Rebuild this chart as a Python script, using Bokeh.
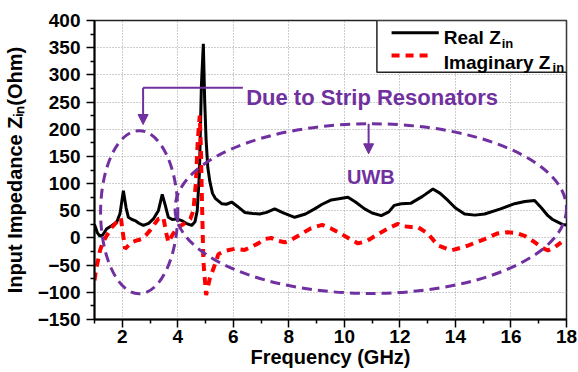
from bokeh.plotting import figure
from bokeh.models import Range1d, Label, Arrow, NormalHead, FixedTicker
from bokeh.embed import file_html
from bokeh.resources import INLINE

# ---------------- data ----------------
freq_real = [1.0, 1.1, 1.2, 1.3, 1.44, 1.6, 1.8, 1.92, 2.04, 2.14, 2.22, 2.35, 2.46, 2.6,
             2.76, 2.95, 3.12, 3.3, 3.44, 3.55, 3.66, 3.8, 3.96, 4.14, 4.3, 4.5, 4.62, 4.7,
             4.78, 4.85, 4.92, 4.97, 5.02, 5.08, 5.15, 5.25, 5.35, 5.58, 5.75, 5.94, 6.15,
             6.41, 6.7, 6.95, 7.2, 7.49, 7.8, 8.21, 8.6, 8.93, 9.2, 9.53, 9.8, 10.13, 10.4,
             10.73, 11.0, 11.33, 11.6, 11.8, 12.05, 12.4, 12.8, 13.19, 13.45, 13.73, 14.0,
             14.33, 14.7, 15.05, 15.6, 16.13, 16.5, 16.85, 17.1, 17.33, 17.5, 17.69, 17.85, 18.0]
z_real = [25, 10, 3, 6, 17, 22, 29, 45, 87, 55, 38, 34, 32, 27,
          23, 27, 35, 50, 80, 60, 38, 34, 35, 32, 27, 23, 30, 50,
          120, 280, 357, 250, 180, 130, 105, 82, 73, 63, 62, 66, 58,
          47, 45, 44, 47, 53.5, 46, 38, 44, 53.5, 62, 70, 72, 75, 66,
          53.5, 46, 41, 48, 60, 63, 64, 76, 90, 82, 69, 55,
          44, 42, 44, 53, 63, 67, 69, 55, 41, 34, 29, 25, 24]

freq_imag = [1.0, 1.05, 1.2, 1.3, 1.44, 1.6, 1.74, 1.95, 2.02, 2.1, 2.2, 2.34, 2.5, 2.7,
             2.85, 3.0, 3.15, 3.3, 3.48, 3.58, 3.66, 3.8, 3.96, 4.15, 4.32, 4.45, 4.56,
             4.65, 4.72, 4.79, 4.83, 4.86, 4.92, 5.02, 5.15, 5.33, 5.46, 5.69, 6.05, 6.41,
             6.7, 6.9, 7.13, 7.37, 7.6, 7.85, 8.1, 8.45, 8.8, 9.2, 9.5, 9.89, 10.2, 10.49,
             10.8, 11.21, 11.6, 11.93, 12.05, 12.4, 12.65, 13.01, 13.37, 13.85, 14.2, 14.45,
             15.05, 15.5, 15.89, 16.2, 16.49, 16.8, 17.09, 17.33, 17.6, 17.81]
z_imag = [-78, -60, -23, -8, 4, 18, 26, 37, 10, -20, -15, -8, -5, -2,
          5, 14, 25, 35, 38, 10, -8, 5, 17, 24, 29, 35, 50,
          100, 180, 225, 170, 93, -42, -105, -75, -50, -30, -24, -20, -22,
          -15, -10, -2, 0, -5, -8, -3, 7.5, 18, 24, 18, 7.5, -2, -10,
          -6, 7, 18, 26, 22, 20, 20, 8, -14, -23, -18, -14,
          -2, 8, 10.5, 9, 4, -6, -17, -23, -16, -8]

x_ticks = [2, 4, 6, 8, 10, 12, 14, 16, 18]
x_minor = [1, 3, 5, 7, 9, 11, 13, 15, 17]
y_ticks = [-150, -100, -50, 0, 50, 100, 150, 200, 250, 300, 350, 400]
y_minor = [-125, -75, -25, 25, 75, 125, 175, 225, 275, 325, 375]

x_title = "Frequency (GHz)"
y_title = "Input Impedance Z\u1d62\u2099(Ohm)"

# annotation ellipses (centre x, centre y, width, height in data units)
ell_x = [2.61, 10.95]
ell_y = [47.4, 54.0]
ell_w = [2.78, 14.1]
ell_h = [300.0, 312.0]

# ---------------- layout ----------------
W, H = 578, 372
FL, FR, FT, FB = 93, 566, 20, 319
X0, X1, Y0, Y1 = 1.0, 18.0, -150.0, 400.0


def X(px):
    return X0 + (px - FL) * (X1 - X0) / (FR - FL)


def Y(py):
    return Y0 + (FB - py) * (Y1 - Y0) / (FB - FT)


FONT = "Liberation Sans"
PURPLE = "#7030A0"

p = figure(width=W, height=H, x_range=Range1d(X0, X1), y_range=Range1d(Y0, Y1),
           output_backend="svg", toolbar_location=None,
           min_border_left=FL, min_border_right=W - FR,
           min_border_top=FT, min_border_bottom=H - FB)
p.background_fill_color = "white"
p.border_fill_color = "white"
p.outline_line_color = "#222222"
p.outline_line_width = 1.5

p.xaxis.ticker = FixedTicker(ticks=x_ticks, minor_ticks=x_minor)
p.yaxis.ticker = FixedTicker(ticks=y_ticks, minor_ticks=y_minor)
for ax in (p.xaxis, p.yaxis):
    ax.major_label_text_font = FONT
    ax.major_label_text_font_style = "bold"
    ax.major_label_text_font_size = "19px"
    ax.major_label_text_color = "black"
    ax.axis_label_text_font = FONT
    ax.axis_label_text_font_style = "bold"
    ax.axis_label_text_font_size = "20px"
    ax.axis_label_text_color = "black"
    ax.axis_line_width = 2
    ax.axis_line_color = "black"
    ax.major_tick_in = 0
    ax.major_tick_out = 8
    ax.minor_tick_in = 0
    ax.minor_tick_out = 4
    ax.major_tick_line_width = 1.5
    ax.minor_tick_line_width = 1.5
    ax.major_tick_line_color = "black"
    ax.minor_tick_line_color = "black"
p.xaxis.axis_label = x_title
p.yaxis.axis_label = y_title
p.xaxis.major_label_standoff = 2
p.xaxis.axis_label_standoff = 0
p.yaxis.major_label_standoff = 6
p.yaxis.axis_label_standoff = 9

p.xgrid.ticker = FixedTicker(ticks=x_ticks)
p.ygrid.ticker = FixedTicker(ticks=y_ticks)
for g in (p.xgrid, p.ygrid):
    g.grid_line_color = "#9a9a9a"
    g.grid_line_dash = "1 2"
    g.grid_line_width = 1

# ---------------- data curves ----------------
p.line(freq_real, z_real, line_color="black", line_width=3)
p.line(freq_imag, z_imag, line_color="#ff0000", line_width=4, line_dash="8 6")

# purple dashed ellipses
p.ellipse(x=ell_x, y=ell_y, width=ell_w, height=ell_h, fill_color=None,
          line_color=PURPLE, line_width=3, line_dash="10 6")

# arrows
p.segment(x0=[X(141.7)], y0=[Y(87.3)], x1=[X(241.7)], y1=[Y(87.3)],
          line_color=PURPLE, line_width=2)
p.add_layout(Arrow(end=NormalHead(size=10, fill_color=PURPLE, line_color=PURPLE),
                   x_start=X(141.7), y_start=Y(87.3), x_end=X(141.7), y_end=Y(124),
                   line_color=PURPLE, line_width=2))
p.add_layout(Arrow(end=NormalHead(size=10, fill_color=PURPLE, line_color=PURPLE),
                   x_start=X(367.7), y_start=Y(123.3), x_end=X(367.7), y_end=Y(153.3),
                   line_color=PURPLE, line_width=2))


def txt(x, y, t, size, color="black"):
    lab = Label(x=x, y=y, text=t, text_font=FONT, text_font_style="bold",
                text_font_size=size, text_color=color,
                text_baseline="alphabetic", text_align="left")
    p.add_layout(lab)


txt(X(245), Y(96.7), "Due to  Strip Resonators", "22px", PURPLE)
txt(X(346), Y(176.7), "UWB", "20px", PURPLE)

# ---------------- legend (drawn by hand for the subscripts) ----------------
p.quad(left=[X(376)], right=[X(566)], top=[Y(20)], bottom=[Y(71.7)],
       fill_color="white", line_color="#222222", line_width=1.5)
p.line([X(390.7), X(438)], [Y(32.3), Y(32.3)], line_color="black", line_width=3)
p.line([X(390.7), X(432)], [Y(55), Y(55)], line_color="#ff0000", line_width=4,
       line_dash="8 6")

txt(X(443), Y(37.3), "Real Z", "19px")
txt(X(501), Y(43.3), "in", "13px")
txt(X(443), Y(61.7), "Imaginary Z", "19px")
txt(X(552), Y(66.7), "in", "13px")

open("out.html", "w").write(file_html(p, INLINE))
